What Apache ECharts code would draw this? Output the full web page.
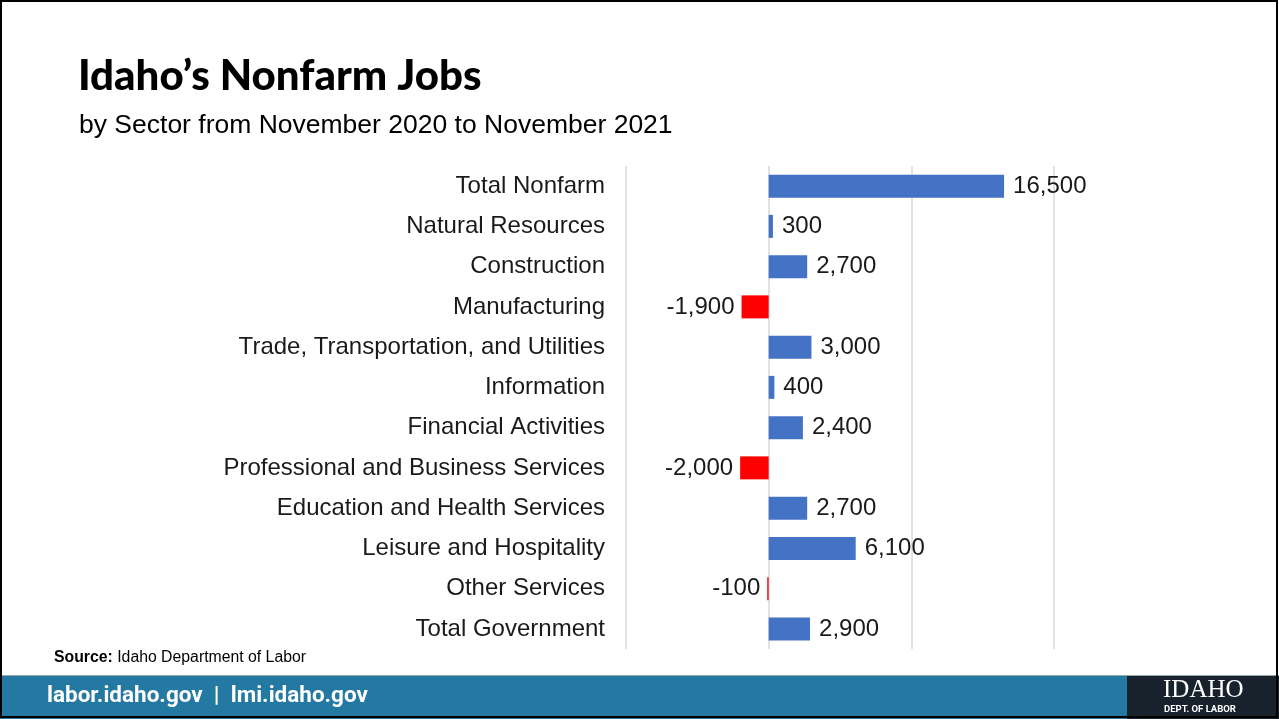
<!DOCTYPE html>
<html>
<head>
<meta charset="utf-8">
<title>Idaho's Nonfarm Jobs</title>
<script src="https://cdn.jsdelivr.net/npm/echarts@6/dist/echarts.min.js"></script>
<style>
  html, body { margin: 0; padding: 0; background: #fff; }
  #chart { width: 1279px; height: 719px; }
</style>
</head>
<body>
<div id="chart"></div>
<script>
// sectors, top to bottom
const sectors = [
  'Total Nonfarm',
  'Natural Resources',
  'Construction',
  'Manufacturing',
  'Trade, Transportation, and Utilities',
  'Information',
  'Financial Activities',
  'Professional and Business Services',
  'Education and Health Services',
  'Leisure and Hospitality',
  'Other Services',
  'Total Government'
];

// change in jobs, Nov 2020 -> Nov 2021
const jobChange = [16500, 300, 2700, -1900, 3000, 400, 2400, -2000, 2700, 6100, -100, 2900];

const COLORS = {
  gain: '#4472C4',
  loss: '#FF0000',
  grid: '#D9D9D9',
  text: '#1a1a1a',
  band: '#2479A3',
  logo: '#18222D'
};

const SANS = 'Liberation Sans, Arial, sans-serif';

const chart = echarts.init(document.getElementById('chart'));

const fmt = v => v.toLocaleString('en-US');

const option = {
  animation: false,
  backgroundColor: '#fff',
  textStyle: { fontFamily: SANS },
  title: [
    {
      text: 'Idaho\u2019s Nonfarm Jobs',
      left: 73,
      top: 50,
      textStyle: {
        fontFamily: 'Lato, sans-serif',
        fontWeight: 900,
        fontSize: 42,
        color: '#000'
      }
    },
    {
      text: 'by Sector from November 2020 to November 2021',
      left: 74,
      top: 107,
      textStyle: {
        fontFamily: SANS,
        fontWeight: 'normal',
        fontSize: 26.5,
        color: '#000'
      }
    }
  ],
  grid: {
    left: 626,
    right: 225,
    top: 166,
    height: 483,
    containLabel: false
  },
  xAxis: {
    type: 'value',
    min: -10000,
    max: 20000,
    interval: 10000,
    axisLabel: { show: false },
    axisLine: { show: false },
    axisTick: { show: false },
    splitLine: { lineStyle: { color: COLORS.grid, width: 1.5 } }
  },
  yAxis: {
    type: 'category',
    data: sectors,
    inverse: true,
    axisLine: { show: false },
    axisTick: { show: false },
    axisLabel: {
      margin: 21,
      fontFamily: SANS,
      fontSize: 24,
      color: COLORS.text
    }
  },
  series: [
    {
      type: 'bar',
      barWidth: 23,
      data: jobChange.map(v => ({
        value: v,
        itemStyle: { color: v < 0 ? COLORS.loss : COLORS.gain },
        label: { position: v < 0 ? 'left' : 'right', distance: v < 0 ? 7 : 9 }
      })),
      label: {
        show: true,
        fontFamily: SANS,
        fontSize: 24,
        color: COLORS.text,
        formatter: p => fmt(p.value)
      }
    }
  ],
  graphic: [
    // outer frame
    {
      type: 'rect',
      shape: { x: 1, y: 1, width: 1276, height: 716 },
      style: { fill: 'none', stroke: '#000', lineWidth: 2 },
      z: 100
    },
    // source note
    {
      type: 'text',
      left: 54,
      top: 650,
      style: {
        text: '{b|Source:} Idaho Department of Labor',
        rich: {
          b: { fontWeight: 'bold', fontSize: 15.8, fontFamily: SANS, fill: '#000' }
        },
        fontSize: 15.8,
        fontFamily: SANS,
        fill: '#000'
      }
    },
    // footer band
    {
      type: 'rect',
      shape: { x: 0, y: 675, width: 1279, height: 1 },
      style: { fill: '#9aa7ae' }
    },
    {
      type: 'rect',
      shape: { x: 0, y: 676, width: 1279, height: 43 },
      style: { fill: COLORS.band }
    },
    {
      type: 'rect',
      shape: { x: 1127, y: 676, width: 152, height: 43 },
      style: { fill: COLORS.logo }
    },
    {
      type: 'text',
      left: 47,
      top: 685,
      style: {
        text: 'labor.idaho.gov  |  lmi.idaho.gov',
        fontFamily: 'Roboto, sans-serif',
        fontWeight: 'bold',
        fontSize: 22.5,
        fill: '#fff'
      }
    },
    {
      type: 'text',
      left: 1163,
      top: 678,
      style: {
        text: 'IDAHO',
        fontFamily: 'Liberation Serif, serif',
        fontSize: 25,
        fill: '#fff'
      }
    },
    {
      type: 'text',
      left: 1164,
      top: 705,
      style: {
        text: 'DEPT. OF LABOR',
        fontFamily: 'Roboto, sans-serif',
        fontWeight: 'bold',
        fontSize: 9.5,
        fill: '#fff'
      }
    }
  ]
};

chart.setOption(option);
</script>
</body>
</html>
